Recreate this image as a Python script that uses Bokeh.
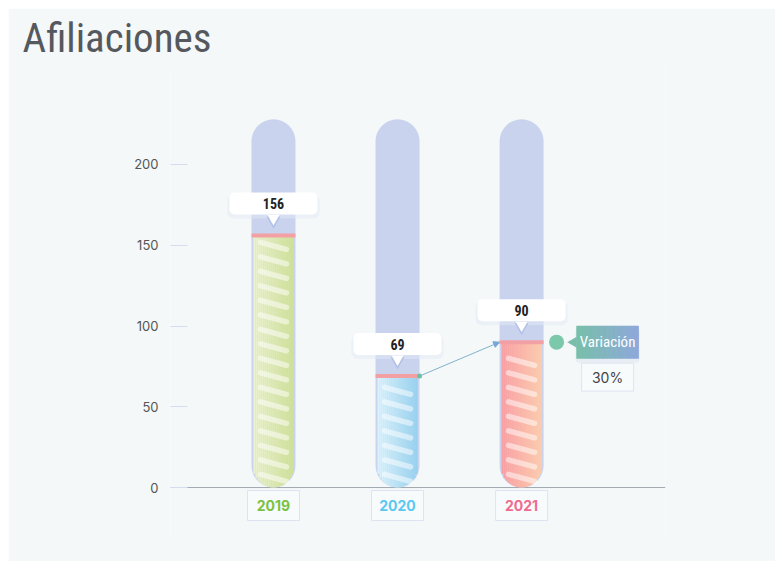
import numpy as np
from bokeh.plotting import figure
from bokeh.models import Range1d, FixedTicker, Arrow, NormalHead
from bokeh.core.properties import value
from bokeh.embed import file_html
from bokeh.resources import INLINE

# ---------------- data ----------------
years = ["2019", "2020", "2021"]
values = [156, 69, 90]
year_colors = ["#7cc242", "#5bc8f2", "#ef6b8f"]
grad_left = ["#e9f1cf", "#dbf2fc", "#f79fa3"]
grad_right = ["#cfe09a", "#98d0ee", "#fbcbae"]
tube_max = 228
y_ticks = [0, 50, 100, 150, 200]
variation_label = "Variación"

variation_pct = f"{round((values[2] - values[1]) / values[1] * 100)}%"

# ---------------- geometry ----------------
W, H = 767, 553
BL, BR, BT, BB = 162, 110, 56, 21
FW, FH = W - BL - BR, H - BT - BB
X0, X1 = 0.17, 4.16
Y0, Y1 = -32.8, 261.9
XU = FW / (X1 - X0)   # px per x unit
PX = FH / (Y1 - Y0)   # px per y unit
xs = [1, 2, 3]

COND_FONT = "Roboto Condensed"
LABEL_FONT = "Inter"

p = figure(width=W, height=H, output_backend="svg", toolbar_location=None,
           x_range=Range1d(X0, X1), y_range=Range1d(Y0, Y1),
           min_border_left=BL, min_border_right=BR, min_border_top=BT, min_border_bottom=BB)
p.margin = (8, 8, 0, 8)
p.background_fill_color = "#f4f8f9"
p.border_fill_color = "#f4f8f9"
p.outline_line_color = None
p.grid.visible = False
p.xaxis.visible = False

p.title.text = "Afiliaciones"
p.title.text_font = COND_FONT
p.title.text_font_size = "41px"
p.title.text_font_style = "normal"
p.title.text_color = "#55595d"
p.title.standoff = 5
p.title.offset = -148

ya = p.yaxis[0]
ya.ticker = FixedTicker(ticks=y_ticks)
ya.axis_line_color = None
ya.major_tick_out = 0
ya.major_tick_in = 17
ya.major_tick_line_color = "#d6dcef"
ya.minor_tick_line_color = None
ya.major_label_text_font = LABEL_FONT
ya.major_label_text_font_size = "13px"
ya.major_label_text_color = "#555555"
ya.major_label_standoff = 12

# baseline
p.segment(x0=[X0], y0=[0], x1=[X1], y1=[0], line_color="#a3a9b0", line_width=1)


def mix(c1, c2, t):
    a = np.array([int(c1[i:i + 2], 16) for i in (1, 3, 5)])
    b = np.array([int(c2[i:i + 2], 16) for i in (1, 3, 5)])
    c = (a + (b - a) * t).round().astype(int)
    return "#%02x%02x%02x" % tuple(c)


# background tubes
p.vbar(x=xs, bottom=0, top=tube_max, width=44 / XU, fill_color="#c9d3ee",
       line_color=None, border_radius=22)

# gradient fills with rounded bottoms
NS = 20
fw = 40.0
r = fw / 2
sx, sb, st, sc = [], [], [], []
for i, (x, v) in enumerate(zip(xs, values)):
    for k in range(NS):
        cx = -r + (k + 0.5) * fw / NS
        bot_px = r - np.sqrt(max(r * r - cx * cx, 0))
        sx.append(x + cx / XU)
        sb.append(bot_px / PX)
        st.append(v)
        sc.append(mix(grad_left[i], grad_right[i], k / (NS - 1)))
p.vbar(x=sx, bottom=sb, top=st, width=fw / NS / XU * 1.05, fill_color=sc, line_color=None)

# diagonal stripes
seg_x0, seg_y0, seg_x1, seg_y1 = [], [], [], []
for x, v in zip(xs, values):
    yc = 6.0
    while yc < v - 5:
        seg_x0.append(x - 13 / XU)
        seg_x1.append(x + 13 / XU)
        seg_y0.append(yc + 3.5 / PX)
        seg_y1.append(yc - 3.5 / PX)
        yc += 14.5 / PX
p.segment(x0=seg_x0, y0=seg_y0, x1=seg_x1, y1=seg_y1, line_color="white",
          line_alpha=0.5, line_width=5.5, line_cap="round")

# value marker lines
p.rect(x=xs, y=values, width=44, height=4, width_units="screen", height_units="screen",
       fill_color="#f3a0a4", line_color=None)

# value callouts
box_y = [v + 32 / PX for v in values]
p.rect(x=xs, y=[v - 3 / PX for v in box_y], width=92, height=24, width_units="screen",
       height_units="screen", fill_color="#e3eaf5", fill_alpha=0.5, line_color=None, border_radius=6)
p.scatter(x=xs, y=[v + 15 / PX for v in values], marker="inverted_triangle", size=14,
          fill_color="#b3c1e8", line_color=None)
p.scatter(x=xs, y=[v + 17 / PX for v in values], marker="inverted_triangle", size=12,
          fill_color="white", line_color=None)
p.rect(x=xs, y=box_y, width=88, height=22, width_units="screen", height_units="screen",
       fill_color="white", line_color=None, border_radius=5)
p.text(x=xs, y=box_y, text=[str(v) for v in values], text_align="center",
       text_baseline="middle", text_font=value(COND_FONT), text_font_size="14px",
       text_font_style="bold", text_color="#222222")

# year boxes
yb = -18 / PX
p.rect(x=xs, y=yb, width=52, height=30, width_units="screen", height_units="screen",
       fill_color="#f8fbfc", line_color="#dde3f0", line_width=1)
p.text(x=xs, y=yb, text=years, text_color=year_colors, text_align="center",
       text_baseline="middle", text_font=value(LABEL_FONT), text_font_size="14px",
       text_font_style="bold")

# arrow between 2020 and 2021
ax0, ay0 = xs[1] + 22 / XU, values[1]
ax1, ay1 = xs[2] - 22 / XU, values[2]
p.add_layout(Arrow(x_start=ax0, y_start=ay0, x_end=ax1, y_end=ay1,
                   line_color="#7fb3c9", line_width=1,
                   end=NormalHead(size=6, fill_color="#7aa6d8", line_color="#7aa6d8")))
p.scatter(x=[ax0], y=[ay0], marker="circle", size=5, fill_color="#6cc3a0", line_color=None)

# variation badge
vy = values[2]
p.scatter(x=[xs[2] + 35 / XU], y=[vy], marker="circle", size=15,
          fill_color="#7cc8aa", line_color=None)
bcx = xs[2] + 86 / XU
p.rect(x=[bcx], y=[vy - 3 / PX], width=64, height=35, width_units="screen", height_units="screen",
       fill_color="#d9e2ef", fill_alpha=0.5, line_color=None, border_radius=4)
p.scatter(x=[xs[2] + 52 / XU], y=[vy], marker="triangle", angle=np.pi / 2, size=11,
          fill_color="#79beab", line_color=None)
NB = 16
bw = 62.0
p.rect(x=[bcx + (-bw / 2 + (k + 0.5) * bw / NB) / XU for k in range(NB)], y=vy,
       width=bw / NB + 0.6, height=33, width_units="screen", height_units="screen",
       fill_color=[mix("#78bfaa", "#8ea8da", k / (NB - 1)) for k in range(NB)], line_color=None)
p.text(x=[bcx], y=[vy], text=[variation_label], text_align="center", text_baseline="middle",
       text_font=value(COND_FONT), text_font_size="15px", text_color="white")

py = vy - 35 / PX
p.rect(x=[bcx], y=[py], width=52, height=28, width_units="screen", height_units="screen",
       fill_color="#f8fbfc", line_color="#dfe4ef", line_width=1)
p.text(x=[bcx], y=[py], text=[variation_pct], text_align="center", text_baseline="middle",
       text_font=value(LABEL_FONT), text_font_size="14px", text_color="#444444")

open("out.html", "w").write(file_html(p, INLINE))
